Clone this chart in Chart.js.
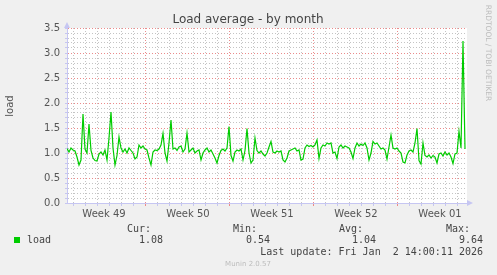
<!DOCTYPE html>
<html>
<head>
<meta charset="utf-8">
<script src="https://cdn.jsdelivr.net/npm/chart.js@4/dist/chart.umd.min.js"></script>
<style>
  html, body { margin: 0; padding: 0; background: #f0f0f0; }
  canvas { display: block; }
</style>
</head>
<body>
<canvas id="chart" width="497" height="275"></canvas>
<script>
// Load average, one sample every 2 px (1/6 day)
const loadValues = [
    1.09, 1.02, 1.10, 1.06, 1.04, 0.92, 0.76, 0.86, 1.78, 1.08,
    1.00, 1.58, 1.05, 0.90, 0.85, 0.84, 0.98, 1.02, 0.96, 1.06,
    0.86, 1.30, 1.82, 1.10, 0.76, 0.95, 1.32, 1.10, 1.02, 1.08,
    1.00, 1.10, 1.05, 1.00, 0.88, 0.92, 1.16, 1.10, 1.14, 1.08,
    1.06, 0.90, 0.76, 1.02, 1.06, 1.05, 1.08, 1.16, 1.39, 1.00,
    0.84, 1.20, 1.66, 1.08, 1.10, 1.05, 1.12, 1.14, 1.02, 1.08,
    1.40, 1.02, 1.06, 1.10, 1.00, 1.04, 1.06, 0.86, 1.00, 1.06,
    1.10, 1.02, 1.06, 0.98, 0.90, 0.80, 0.95, 1.05, 1.08, 1.04,
    1.10, 1.53, 0.95, 0.84, 1.02, 1.06, 1.04, 1.08, 0.86, 1.05,
    1.49, 1.00, 0.80, 0.86, 1.30, 1.05, 1.00, 1.04, 0.98, 0.94,
    1.00, 1.12, 1.23, 1.02, 1.00, 1.04, 1.02, 1.04, 0.86, 0.82,
    0.90, 1.04, 1.06, 1.08, 1.10, 1.04, 1.06, 0.86, 0.88, 1.10,
    1.16, 1.13, 1.15, 1.12, 1.16, 1.26, 0.89, 1.10, 1.16, 1.14,
    1.20, 1.18, 1.20, 1.00, 1.02, 0.89, 1.12, 1.16, 1.10, 1.14,
    1.12, 1.10, 1.02, 0.89, 1.10, 1.20, 1.14, 1.18, 1.15, 1.20,
    1.10, 0.86, 1.00, 1.23, 1.18, 1.20, 1.14, 1.08, 1.10, 1.06,
    0.88, 1.12, 1.36, 1.10, 1.08, 1.10, 1.04, 1.00, 0.82, 0.80,
    0.96, 1.04, 1.06, 1.02, 1.20, 1.49, 0.85, 0.78, 1.20, 0.95,
    0.92, 0.96, 0.90, 0.95, 0.92, 0.80, 0.98, 1.00, 0.94, 1.02,
    0.96, 1.00, 0.92, 0.79, 0.98, 1.00, 1.43, 1.10, 3.24, 1.08
];
const sampleStep = 1 / 6;          // days between samples
const spanDays = 400 / 12;         // visible range of the graph

// Week boundaries (days from left edge) and labels
const weekStarts = [6.583, 13.583, 20.583, 27.583];
const weekLabels = ["Week 49", "Week 50", "Week 51", "Week 52", "Week 01"];
const weekLabelPos = [3.083, 10.083, 17.083, 24.083, 31.083];

// Legend
const legendHeads = ["Cur:", "Min:", "Avg:", "Max:"];
const legendValues = ["1.08", "0.54", "1.04", "9.64"];

const points = loadValues.map((v, i) => ({ x: i * sampleStep, y: v }));

const dayLines = [];
for (let d = weekStarts[0] - 6; d < spanDays; d += 1) dayLines.push(+d.toFixed(3));

const RED = "rgba(230,110,110,0.8)";
const GREY = "rgba(190,190,190,0.9)";
const AXIS = "#c6c6f2";
const TXT = "#555";

const isWeek = v => weekStarts.some(w => Math.abs(w - v) < 0.01);

const munin = {
    id: "munin",
    beforeDraw(chart) {
        const { ctx, chartArea: a } = chart;
        ctx.save();
        ctx.fillStyle = "#f0f0f0";
        ctx.fillRect(0, 0, chart.width, chart.height);
        ctx.fillStyle = "#ffffff";
        ctx.fillRect(a.left, a.top, a.right - a.left, a.bottom - a.top);
        ctx.restore();
    },
    afterDraw(chart) {
        const { ctx, chartArea: a } = chart;
        ctx.save();

        // axis arrows
        ctx.fillStyle = AXIS;
        ctx.beginPath();
        ctx.moveTo(a.left - 3, a.top); ctx.lineTo(a.left + 3, a.top); ctx.lineTo(a.left, a.top - 6);
        ctx.fill();
        ctx.beginPath();
        ctx.moveTo(a.right, a.bottom - 3); ctx.lineTo(a.right, a.bottom + 3); ctx.lineTo(a.right + 6, a.bottom);
        ctx.fill();

        // title
        ctx.fillStyle = "#444";
        ctx.font = "12px 'DejaVu Sans'";
        ctx.textAlign = "center";
        ctx.textBaseline = "alphabetic";
        ctx.fillText("Load average - by month", 248, 23);

        // y label
        ctx.save();
        ctx.translate(10, 106);
        ctx.rotate(-Math.PI / 2);
        ctx.fillStyle = TXT;
        ctx.font = "10px 'DejaVu Sans'";
        ctx.textBaseline = "middle";
        ctx.fillText("load", 0, 0);
        ctx.restore();

        // rrdtool credit
        ctx.save();
        ctx.translate(488, 53);
        ctx.rotate(Math.PI / 2);
        ctx.fillStyle = "#bcbcbc";
        ctx.font = "7.5px 'DejaVu Sans'";
        ctx.textBaseline = "middle";
        ctx.fillText("RRDTOOL / TOBI OETIKER", 0, 0);
        ctx.restore();

        // legend
        ctx.font = "10px 'DejaVu Sans Mono'";
        ctx.fillStyle = "#444";
        ctx.textAlign = "right";
        ctx.textBaseline = "middle";
        const headX = [151, 257, 363, 470];
        const valX = [163, 270, 376, 483];
        legendHeads.forEach((h, i) => ctx.fillText(h, headX[i], 229));
        legendValues.forEach((v, i) => ctx.fillText(v, valX[i], 240));
        ctx.fillText("Last update: Fri Jan  2 14:00:11 2026", 483, 252);
        ctx.textAlign = "left";
        ctx.fillText("load", 27, 240);
        ctx.fillStyle = "#00cc00";
        ctx.fillRect(14, 237, 6, 6);

        ctx.fillStyle = "#bcbcbc";
        ctx.font = "7px 'DejaVu Sans'";
        ctx.textAlign = "center";
        ctx.fillText("Munin 2.0.57", 248, 264);
        ctx.restore();
    }
};

new Chart(document.getElementById("chart"), {
    type: "line",
    data: {
        datasets: [{
            data: points,
            borderColor: "#00cc00",
            borderWidth: 1.2,
            pointRadius: 0,
            tension: 0,
            fill: false,
        }]
    },
    options: {
        responsive: false,
        animation: false,
        devicePixelRatio: 1,
        layout: { padding: { top: 28, right: 30, left: 0, bottom: 0 } },
        plugins: { legend: { display: false }, tooltip: { enabled: false } },
        scales: {
            y: {
                min: 0, max: 3.5,
                afterFit: s => { s.width = 67; },
                ticks: {
                    stepSize: 0.1, autoSkip: false, padding: 5,
                    color: TXT, font: { family: "DejaVu Sans", size: 10 },
                    callback: v => (Math.round(v * 10) % 5 === 0 ? v.toFixed(1) : ""),
                },
                grid: {
                    color: c => (Math.round(c.tick.value * 10) % 5 === 0 ? RED : GREY),
                    tickLength: 2, tickColor: AXIS,
                },
                border: { color: AXIS, dash: [1, 2] },
            },
            x: {
                type: "linear", min: 0, max: spanDays, weight: 0,
                afterBuildTicks: s => { s.ticks = dayLines.map(v => ({ value: v })); },
                afterFit: s => { s.height = 4; },
                ticks: { display: false },
                grid: {
                    color: c => (c.tick && isWeek(c.tick.value) ? RED : GREY),
                    tickColor: c => (c.tick && isWeek(c.tick.value) ? "#e88" : AXIS),
                    tickLength: 3,
                },
                border: { color: AXIS, dash: [1, 2] },
            },
            x2: {
                type: "linear", min: 0, max: spanDays, position: "bottom", weight: 1,
                afterBuildTicks: s => { s.ticks = weekLabelPos.map(v => ({ value: v })); },
                afterFit: s => { s.height = 68; },
                ticks: {
                    autoSkip: false, maxRotation: 0, padding: 1,
                    color: TXT, font: { family: "DejaVu Sans", size: 10 },
                    callback: (v, i) => weekLabels[i],
                },
                grid: { display: false, drawTicks: false },
                border: { display: false },
            }
        }
    },
    plugins: [munin]
});
</script>
</body>
</html>
